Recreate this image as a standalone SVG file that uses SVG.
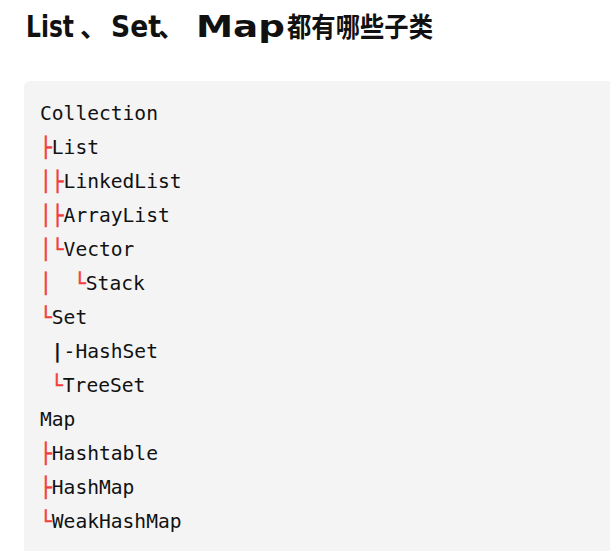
<svg xmlns="http://www.w3.org/2000/svg" width="610" height="551" viewBox="0 0 610 551">
<style>
.t{font-family:"DejaVu Sans","Noto Sans CJK SC",sans-serif;font-weight:bold;font-size:30px;fill:#111111}
.cj{font-family:"Noto Sans CJK SC",sans-serif;font-weight:bold;font-size:27px}
.c{font-family:"DejaVu Sans Mono","Liberation Mono",monospace;font-size:19.6px;fill:#111111}
.r{fill:#f23c3c;stroke:#f23c3c;stroke-width:0.5px}
.b{font-weight:bold}
</style>
<rect x="0" y="0" width="610" height="551" fill="#ffffff"/>
<g id="title">
<text class="t" y="36.5"><tspan x="26" textLength="48" lengthAdjust="spacingAndGlyphs">List</tspan><tspan class="cj" x="80">、</tspan><tspan x="111" textLength="50" lengthAdjust="spacingAndGlyphs">Set</tspan><tspan class="cj" x="158">、</tspan><tspan x="196" textLength="89" lengthAdjust="spacingAndGlyphs">Map</tspan><tspan class="cj" x="287" textLength="146" lengthAdjust="spacingAndGlyphs">都有哪些子类</tspan></text>
</g>
<g id="codeblock">
<path d="M30 81 H610 V551 H24 V87 Q24 81 30 81 Z" fill="#f4f4f4"/>
<text class="c" x="40" y="120">Collection</text>
<text class="c" x="40" y="154"><tspan class="r">├</tspan>List</text>
<text class="c" x="40" y="188"><tspan class="r">│├</tspan>LinkedList</text>
<text class="c" x="40" y="222"><tspan class="r">│├</tspan>ArrayList</text>
<text class="c" x="40" y="256"><tspan class="r">│└</tspan>Vector</text>
<text class="c" x="40" y="290"><tspan class="r">│</tspan><tspan class="r" x="74">└</tspan>Stack</text>
<text class="c" x="40" y="324"><tspan class="r">└</tspan>Set</text>
<text class="c" x="51.5" y="358"><tspan class="b">|</tspan><tspan x="63.6">-HashSet</tspan></text>
<text class="c" x="51" y="392"><tspan class="r">└</tspan>TreeSet</text>
<text class="c" x="40" y="426">Map</text>
<text class="c" x="40" y="460"><tspan class="r">├</tspan>Hashtable</text>
<text class="c" x="40" y="494"><tspan class="r">├</tspan>HashMap</text>
<text class="c" x="40" y="528"><tspan class="r">└</tspan>WeakHashMap</text>
</g>
</svg>
